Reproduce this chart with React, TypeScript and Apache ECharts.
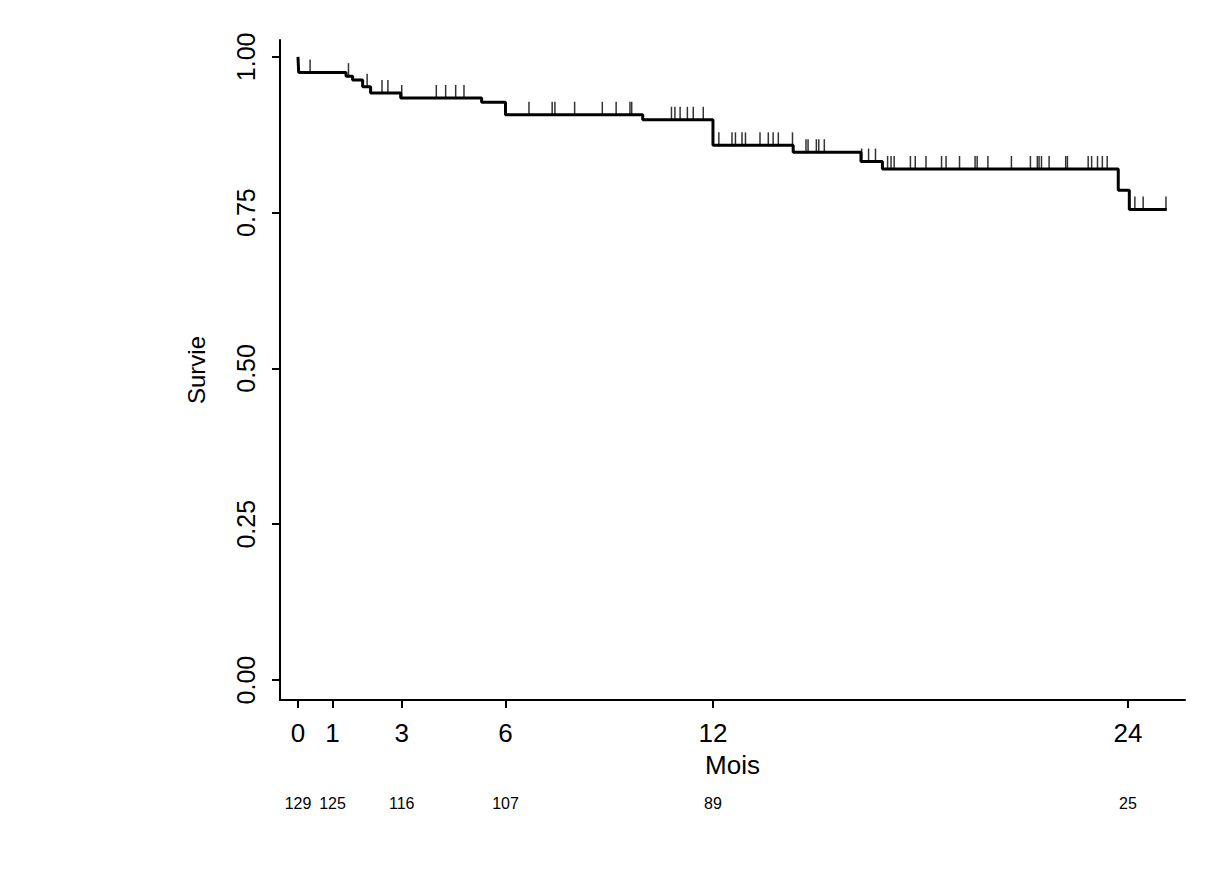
import React, { useEffect, useRef } from 'react';
import * as echarts from 'echarts';

// Kaplan-Meier step points (months, survival)
const stepTimes = [0, 0.02, 1.39, 1.58, 1.87, 2.1, 2.97, 5.31, 6.0, 9.97, 12.0, 14.32, 16.28, 16.9, 23.72, 24.04, 25.12];
const stepSurv = [1.0, 0.975, 0.969, 0.963, 0.952, 0.942, 0.934, 0.927, 0.907, 0.899, 0.858, 0.847, 0.832, 0.82, 0.786, 0.755, 0.755];

// censored observations (months)
const censorTimes = [
  0.35, 1.46, 2.0, 2.43, 2.6, 3.0, 4.0, 4.27, 4.56, 4.8, 6.0, 6.68, 7.35, 7.43, 8.0,
  8.8, 9.2, 9.6, 9.65, 10.8, 10.9, 11.05, 11.26, 11.43, 11.72, 12.17, 12.55, 12.65,
  12.84, 12.94, 13.36, 13.6, 13.74, 13.89, 14.3, 14.69, 14.75, 14.99, 15.06, 15.22,
  16.3, 16.5, 16.7, 17.05, 17.15, 17.24, 17.71, 17.85, 18.16, 18.61, 18.74, 19.13,
  19.58, 19.64, 19.95, 20.63, 21.18, 21.38, 21.43, 21.5, 21.72, 22.2, 22.25, 22.85,
  22.95, 23.12, 23.26, 23.4, 24.2, 24.44, 25.1,
];

const xTicks = [0, 1, 3, 6, 12, 24];
const atRisk = [129, 125, 116, 107, 89, 25];
const yTicks = [0, 0.25, 0.5, 0.75, 1];

const survAt = (t: number) => {
  let s = stepSurv[0];
  for (let i = 0; i < stepTimes.length; i++) if (stepTimes[i] <= t) s = stepSurv[i];
  return s;
};

const font = 'Liberation Sans, Arial, sans-serif';

const App: React.FC = () => {
  const ref = useRef<HTMLDivElement>(null);

  useEffect(() => {
    if (!ref.current) return;
    const chart = echarts.init(ref.current, undefined, { renderer: 'svg' });
    const axisLine = { show: true, lineStyle: { color: '#000', width: 2 } };
    chart.setOption({
      animation: false,
      grid: { left: 272, top: 32, right: 19, bottom: 173 },
      xAxis: {
        type: 'value', min: -0.52, max: 25.65,
        name: 'Mois', nameLocation: 'middle', nameGap: 52,
        nameTextStyle: { fontSize: 26, color: '#000', fontFamily: font },
        axisLine: { ...axisLine, onZero: false },
        axisTick: { show: true, length: 8, lineStyle: { color: '#000', width: 2 }, customValues: xTicks },
        axisLabel: { customValues: xTicks, fontSize: 26, color: '#000', fontFamily: font, margin: 20 },
        splitLine: { show: false },
      },
      yAxis: {
        type: 'value', min: -0.032, max: 1.027,
        name: 'Survie', nameLocation: 'middle', nameGap: 72,
        nameTextStyle: { fontSize: 24, color: '#000', fontFamily: font },
        axisLine: { ...axisLine, onZero: false },
        axisTick: { show: true, length: 8, lineStyle: { color: '#000', width: 2 }, customValues: yTicks },
        axisLabel: {
          customValues: yTicks, rotate: 90, fontSize: 25, color: '#000', fontFamily: font, margin: 22,
          formatter: (v: number) => v.toFixed(2),
        },
        splitLine: { show: false },
      },
      series: [
        {
          type: 'line', step: 'end', symbol: 'none',
          lineStyle: { color: '#000', width: 3 },
          data: stepTimes.map((t, i) => [t, stepSurv[i]]),
        },
        {
          type: 'scatter', symbol: 'rect', symbolSize: [1.5, 14], symbolOffset: [0, -6],
          itemStyle: { color: '#000' },
          data: censorTimes.map((t) => [t, survAt(t)]),
        },
      ],
    });
    const y = 803 - 8;
    chart.setOption({
      graphic: xTicks.map((t, i) => ({
        type: 'text',
        x: chart.convertToPixel({ xAxisIndex: 0 }, t),
        y,
        style: { text: String(atRisk[i]), fill: '#000', font: `16px ${font}`, align: 'center', verticalAlign: 'middle' },
      })),
    });
    return () => chart.dispose();
  }, []);

  return <div ref={ref} style={{ width: 1196, height: 865 }} />;
};

export default App;
